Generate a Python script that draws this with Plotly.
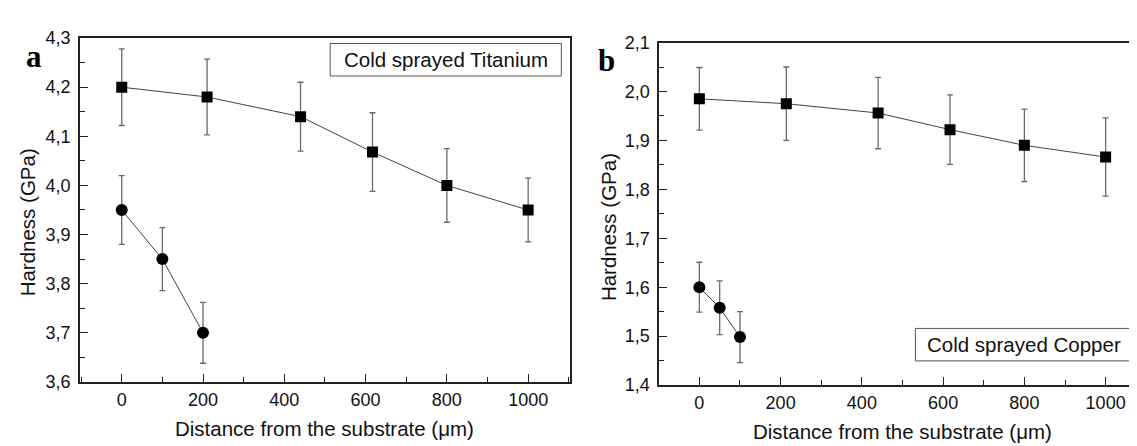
import plotly.graph_objects as go

# Panel a: Cold sprayed Titanium
ti_sq_x = [0, 210, 440, 617, 800, 1000]
ti_sq_y = [4.20, 4.18, 4.14, 4.068, 4.00, 3.95]
ti_sq_err = [0.078, 0.077, 0.070, 0.080, 0.075, 0.065]
ti_ci_x = [0, 100, 200]
ti_ci_y = [3.95, 3.85, 3.70]
ti_ci_err = [0.070, 0.064, 0.062]

# Panel b: Cold sprayed Copper
cu_sq_x = [0, 214, 440, 617, 800, 1000]
cu_sq_y = [1.985, 1.975, 1.956, 1.922, 1.890, 1.866]
cu_sq_err = [0.064, 0.075, 0.073, 0.071, 0.074, 0.080]
cu_ci_x = [0, 50, 100]
cu_ci_y = [1.60, 1.558, 1.498]
cu_ci_err = [0.051, 0.055, 0.052]

x_ticks = [0, 200, 400, 600, 800, 1000]

W, H = 1137, 446
FONT = "Liberation Sans, Arial, sans-serif"
LINE_C = "#444444"
ERR_C = "#6a6a6a"
AX_C = "#222222"

fig = go.Figure()

def add_series(x, y, err, symbol, size, xa, ya):
    fig.add_trace(go.Scatter(
        x=x, y=y, mode="lines+markers",
        line=dict(color=LINE_C, width=1),
        marker=dict(symbol=symbol, size=size, color="black"),
        error_y=dict(type="data", array=err, visible=True, color=ERR_C, thickness=1.3, width=3),
        xaxis=xa, yaxis=ya, showlegend=False))

add_series(ti_sq_x, ti_sq_y, ti_sq_err, "square", 11, "x", "y")
add_series(ti_ci_x, ti_ci_y, ti_ci_err, "circle", 12, "x", "y")
add_series(cu_sq_x, cu_sq_y, cu_sq_err, "square", 11, "x2", "y2")
add_series(cu_ci_x, cu_ci_y, cu_ci_err, "circle", 12, "x2", "y2")

def px_x(v):
    return v / W

def px_y(v):
    return 1 - v / H

axis_common = dict(
    showline=True, linecolor=AX_C, linewidth=1.6, mirror=True,
    ticks="inside", ticklen=8, tickwidth=1.4, tickcolor=AX_C,
    showgrid=False, zeroline=False,
    tickfont=dict(family=FONT, size=18, color="#111111"),
)
minor_x = dict(dtick=100, tick0=0, ticks="inside", ticklen=5, tickcolor=AX_C, tickwidth=1.2)

fig.update_layout(
    width=W, height=H,
    margin=dict(l=0, r=0, t=0, b=0),
    paper_bgcolor="white", plot_bgcolor="white",
    separators=", ",
    xaxis=dict(domain=[px_x(72), px_x(563)], range=[-103, 1103], anchor="y",
               tickvals=x_ticks, minor=minor_x, ticklabelstandoff=1, **axis_common),
    yaxis=dict(domain=[px_y(381), px_y(21)], range=[3.6, 4.3], anchor="x",
               dtick=0.1, tick0=3.6, tickformat=".1f", ticklabelstandoff=4,
               minor=dict(dtick=0.05, tick0=3.6, ticks="inside", ticklen=5, tickcolor=AX_C, tickwidth=1.2),
               **axis_common),
    xaxis2=dict(domain=[px_x(652.3), 1.0], range=[-99, 1092], anchor="y2",
                tickvals=x_ticks, minor=minor_x, ticklabelstandoff=1, **axis_common),
    yaxis2=dict(domain=[px_y(384.3), px_y(25.7)], range=[1.4, 2.1], anchor="x2",
                dtick=0.1, tick0=1.4, tickformat=".1f", ticklabelstandoff=4,
                minor=dict(dtick=0.05, tick0=1.4, ticks="inside", ticklen=5, tickcolor=AX_C, tickwidth=1.2),
                **axis_common),
)

title_font = dict(family=FONT, size=20.5, color="#111111")
annots = [
    dict(text="Hardness (GPa)", x=px_x(19), y=px_y(214), textangle=-90),
    dict(text="Hardness (GPa)", x=px_x(601), y=px_y(219), textangle=-90),
    dict(text="Distance from the substrate (μm)", x=px_x(317.5), y=px_y(430)),
    dict(text="Distance from the substrate (μm)", x=px_x(896.5), y=px_y(433)),
]
for a in annots:
    fig.add_annotation(xref="paper", yref="paper", xanchor="center", yanchor="middle",
                       showarrow=False, font=title_font, **a)

panel_font = dict(family="Liberation Serif, Times New Roman, serif", size=31, color="black")
fig.add_annotation(text="<b>a</b>", x=px_x(26), y=px_y(40), xref="paper", yref="paper",
                   showarrow=False, font=panel_font, xanchor="center", yanchor="middle")
fig.add_annotation(text="<b>b</b>", x=px_x(600), y=px_y(45), xref="paper", yref="paper",
                   showarrow=False, font=panel_font, xanchor="center", yanchor="middle")

# Legend-like boxes
boxes = [
    ("Cold sprayed Titanium", 322.7, 554.3, 26.7, 60.7),
    ("Cold sprayed Copper", 909, 1126, 325, 359),
]
for text, x0, x1, y0, y1 in boxes:
    fig.add_shape(type="rect", xref="paper", yref="paper",
                  x0=px_x(x0), x1=px_x(x1), y0=px_y(y1), y1=px_y(y0),
                  line=dict(color="#555555", width=1), fillcolor="white", layer="above")
    fig.add_annotation(text=text, x=px_x((x0 + x1) / 2), y=px_y((y0 + y1) / 2),
                       xref="paper", yref="paper", showarrow=False,
                       font=dict(family=FONT, size=20.5, color="#111111"),
                       xanchor="center", yanchor="middle")

fig.write_html("out.html")
